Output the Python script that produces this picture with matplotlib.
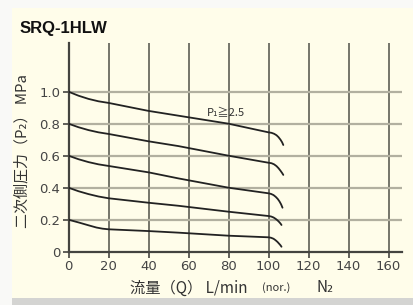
import matplotlib
matplotlib.use("Agg")
import matplotlib.pyplot as plt
from matplotlib.patches import Rectangle

# ---- data ----
x_ticks = [0, 20, 40, 60, 80, 100, 120, 140, 160]
y_ticks = [0, 0.2, 0.4, 0.6, 0.8, 1.0]
y_tick_labels = ["0", "0.2", "0.4", "0.6", "0.8", "1.0"]

c1_x = [0, 5, 10, 15, 20, 40, 55, 80, 100, 101.5, 102.8, 104, 105, 106, 106.8, 107.4]
c1_y = [1.0, 0.975, 0.955, 0.94, 0.93, 0.88, 0.85, 0.80, 0.746, 0.743, 0.737, 0.728, 0.716, 0.700, 0.684, 0.667]
c2_x = [0, 5, 10, 15, 20, 40, 55, 80, 100, 101.5, 102.8, 104, 105, 106, 106.8, 107.4]
c2_y = [0.8, 0.778, 0.76, 0.746, 0.736, 0.69, 0.66, 0.60, 0.556, 0.553, 0.546, 0.535, 0.522, 0.506, 0.492, 0.48]
c3_x = [0, 5, 10, 15, 20, 40, 55, 80, 100, 101.3, 102.5, 103.6, 104.6, 105.5, 106.3, 107]
c3_y = [0.6, 0.578, 0.56, 0.546, 0.536, 0.496, 0.458, 0.40, 0.365, 0.361, 0.354, 0.343, 0.330, 0.314, 0.296, 0.275]
c4_x = [0, 5, 10, 15, 20, 40, 55, 80, 100, 101.3, 102.5, 103.5, 104.5, 105.3, 106, 106.5]
c4_y = [0.4, 0.378, 0.36, 0.345, 0.334, 0.306, 0.287, 0.25, 0.223, 0.220, 0.214, 0.206, 0.196, 0.186, 0.176, 0.167]
c5_x = [0, 5, 10, 14, 17, 20, 40, 55, 80, 100, 101.3, 102.5, 103.5, 104.5, 105.3, 106, 106.5]
c5_y = [0.2, 0.183, 0.165, 0.151, 0.144, 0.14, 0.129, 0.119, 0.10, 0.09, 0.087, 0.081, 0.072, 0.061, 0.050, 0.040, 0.031]
curves = [(c1_x, c1_y), (c2_x, c2_y), (c3_x, c3_y), (c4_x, c4_y), (c5_x, c5_y)]

title = "SRQ-1HLW"
ylabel = "二次側圧力（P₂） MPa"
annot = "P₁≧2.5"
xlabel_main = "流量（Q） L/min"
xlabel_unit = "(nor.)"
xlabel_gas = "N₂"

W, H = 414, 305
CREAM = "#fffdea"
fig = plt.figure(figsize=(W / 100, H / 100), dpi=100)
fig.patch.set_facecolor("#f9f9f7")
# cream panel and bottom shadow
fig.add_artist(Rectangle((12 / W, 0), 1 - 12 / W, (H - 8) / H,
                         transform=fig.transFigure, facecolor=CREAM, edgecolor="none", zorder=-10))
fig.add_artist(Rectangle((12 / W, 0), 1 - 12 / W, 7 / H,
                         transform=fig.transFigure, facecolor="#d4d4d2", edgecolor="none", zorder=-9))

x0, x1 = 68.5, 402
ytop, y0 = 43, 251.7
ax = fig.add_axes([x0 / W, (H - y0) / H, (x1 - x0) / W, (y0 - ytop) / H])
ax.set_facecolor("none")
ax.set_xlim(0, (x1 - x0) / 2)
ax.set_ylim(0, (y0 - ytop) / 160)

for s in ["top", "right"]:
    ax.spines[s].set_visible(False)
for s in ["left", "bottom"]:
    ax.spines[s].set_color("#444440")
    ax.spines[s].set_linewidth(1.6)

# grid
for xv in x_ticks[1:]:
    ax.axvline(xv, color="#5e5e55", lw=1.2, zorder=1)
for yv in y_ticks[1:]:
    ax.axhline(yv, color="#b2b0a0", lw=1.6, zorder=1)

for cx, cy in curves:
    ax.plot(cx, cy, color="#222222", lw=1.3, zorder=3, solid_capstyle="round",
            solid_joinstyle="round")

ax.text(69, 0.865, annot, fontsize=8, color="#333333", va="center", ha="left",
        family=["Noto Sans CJK JP", "DejaVu Sans"])

ax.set_xticks(x_ticks)
ax.set_xticklabels([str(v) for v in x_ticks])
ax.set_yticks(y_ticks)
ax.set_yticklabels(y_tick_labels)
ax.tick_params(axis="both", direction="out", length=4, width=1.2, color="#444440",
               labelsize=9.5, labelcolor="#444444", pad=2)
for lab in ax.get_xticklabels() + ax.get_yticklabels():
    lab.set_family("DejaVu Sans")

fig.text(20 / W, 1 - 28 / H, title, fontsize=12, fontweight="bold", color="#111111",
         family="Liberation Sans", va="center", ha="left")
fam = ["Noto Sans CJK JP", "DejaVu Sans"]
fig.text(22 / W, 1 - 151 / H, ylabel, rotation=90, fontsize=10.8, color="#333333",
         va="center", ha="center", family=fam)

fig.text(130 / W, 1 - 288 / H, xlabel_main, fontsize=11, color="#333333",
         va="center", ha="left", family=fam)
fig.text(262 / W, 1 - 288 / H, xlabel_unit, fontsize=8, color="#333333",
         va="center", ha="left", family=fam)
fig.text(317 / W, 1 - 288 / H, xlabel_gas, fontsize=11, color="#333333",
         va="center", ha="left", family=fam)

fig.savefig("out.png", dpi=100, facecolor=fig.get_facecolor())
